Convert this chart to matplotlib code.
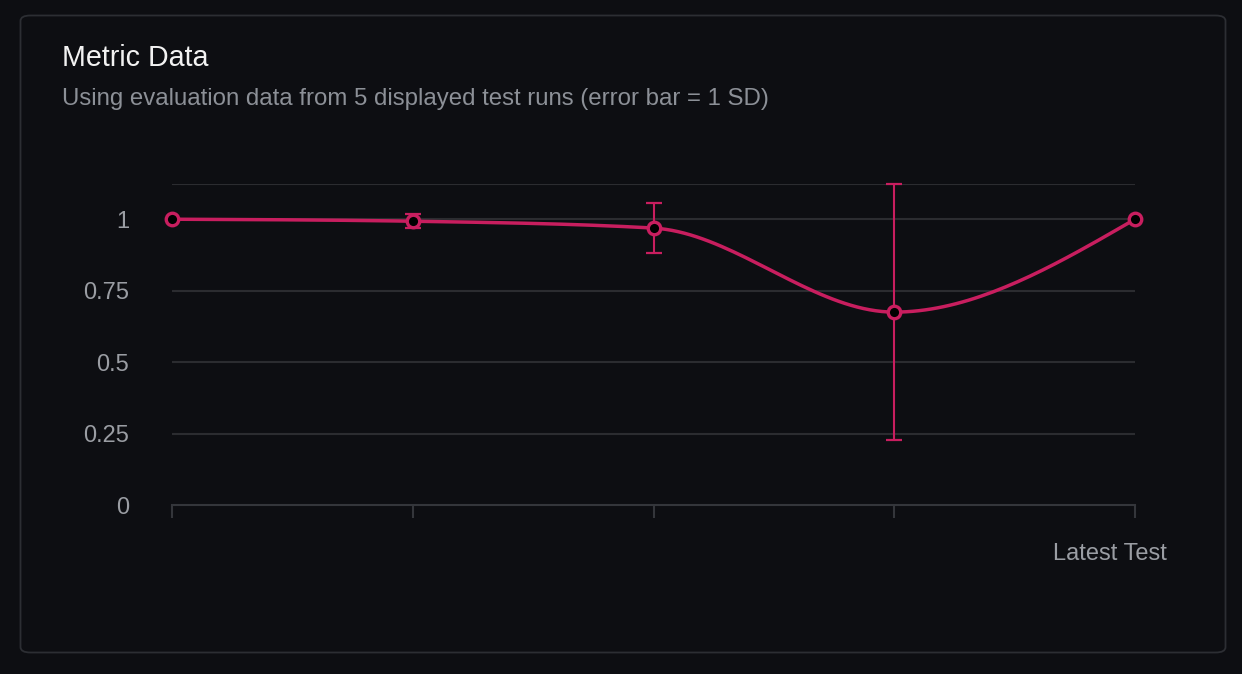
import numpy as np
import matplotlib
matplotlib.use('Agg')
import matplotlib.pyplot as plt
from matplotlib.patches import FancyBboxPatch

# data ----------------------------------------------
runs = [1, 2, 3, 4, 5]
scores = [1.0, 0.993, 0.969, 0.675, 1.0]
sd = [0.0, 0.024, 0.087, 0.447, 0.0]
yticks = [0, 0.25, 0.5, 0.75, 1]
ytick_labels = ['0', '0.25', '0.5', '0.75', '1']

title = 'Metric Data'
subtitle = 'Using evaluation data from 5 displayed test runs (error bar = 1 SD)'
xlabel = 'Latest Test'

bg = '#0d0e12'
pink = '#c81e5f'
grid_col = '#2b2c30'
txt_grey = '#9a9da3'

plt.rcParams['font.family'] = ['Liberation Sans', 'DejaVu Sans']


def sgn(v):
	# d3 style sign, zero counts as positive
	return -1.0 if v < 0 else 1.0


def monotone_path(xs, ys, n=40):
	# monotone-x cubic like d3.curveMonotoneX
	xs = np.asarray(xs, dtype=float)
	ys = np.asarray(ys, dtype=float)
	m = len(xs)
	t = np.zeros(m)
	for i in range(1, m - 1):
		h0 = xs[i] - xs[i-1]
		h1 = xs[i+1] - xs[i]
		s0 = (ys[i] - ys[i-1]) / h0
		s1 = (ys[i+1] - ys[i]) / h1
		p = (s0*h1 + s1*h0) / (h0 + h1)
		t[i] = (sgn(s0) + sgn(s1)) * min(abs(s0), abs(s1), 0.5*abs(p))
	h = xs[1] - xs[0]
	t[0] = (3*(ys[1] - ys[0])/h - t[1]) / 2
	h = xs[-1] - xs[-2]
	t[-1] = (3*(ys[-1] - ys[-2])/h - t[-2]) / 2
	px, py = [], []
	u = np.linspace(0, 1, n)
	for i in range(m - 1):
		dx = (xs[i+1] - xs[i]) / 3.0
		p0 = (xs[i], ys[i])
		p1 = (xs[i] + dx, ys[i] + dx*t[i])
		p2 = (xs[i+1] - dx, ys[i+1] - dx*t[i+1])
		p3 = (xs[i+1], ys[i+1])
		bx = (1-u)**3*p0[0] + 3*(1-u)**2*u*p1[0] + 3*(1-u)*u**2*p2[0] + u**3*p3[0]
		by = (1-u)**3*p0[1] + 3*(1-u)**2*u*p1[1] + 3*(1-u)*u**2*p2[1] + u**3*p3[1]
		px.extend(bx)
		py.extend(by)
	return np.array(px), np.array(py)


W, H = 1242, 674
fig = plt.figure(figsize=(W/100, H/100), dpi=100)
fig.patch.set_facecolor(bg)

# card outline (behind the axes)
card = FancyBboxPatch((20.5/W, 1 - 652.5/H), 1205/W, 637/H,
	boxstyle='round,pad=0,rounding_size=0.008', transform=fig.transFigure,
	facecolor=bg, edgecolor='#2c2e33', linewidth=1.3, zorder=-5)
fig.patches.append(card)

fig.text(62/W, 1 - 58.5/H, title, color='#f2f2f2', fontsize=20.6, va='center', ha='left')
fig.text(62/W, 1 - 99/H, subtitle, color='#8c9097', fontsize=17.3, va='center', ha='left')

ax = fig.add_axes([172/W, 1 - 505/H, (1135-172)/W, (505-183.5)/H])
ax.set_zorder(2)
ax.set_facecolor(bg)
x = np.arange(len(runs))
ax.set_xlim(0, len(runs) - 1)
ax.set_ylim(0, 1.125)

for gy in [0.25, 0.5, 0.75, 1.0, 1.125]:
	ax.axhline(gy, color=grid_col, lw=1.5, zorder=0)

for s in ['top', 'right', 'left']:
	ax.spines[s].set_visible(False)
ax.spines['bottom'].set_color('#34363b')
ax.spines['bottom'].set_linewidth(1.5)

ax.set_yticks(yticks)
ax.set_yticklabels(ytick_labels)
ax.tick_params(axis='y', length=0, pad=31, labelsize=17, labelcolor=txt_grey)
ax.set_xticks(x)
ax.set_xticklabels([])
ax.tick_params(axis='x', length=9, width=1.5, color='#34363b', direction='out')

# error bars, skip the zero ones
ex = [xi for xi, s in zip(x, sd) if s > 0]
ey = [yi for yi, s in zip(scores, sd) if s > 0]
es = [s for s in sd if s > 0]
ax.errorbar(ex, ey, yerr=es, fmt='none', ecolor=pink, elinewidth=1.5,
	capsize=6, capthick=1.6, zorder=2, clip_on=False)

cx, cy = monotone_path(x, scores)
ax.plot(cx, cy, color=pink, lw=2.5, zorder=3, clip_on=False, solid_capstyle='round')
ax.plot(x, scores, 'o', ms=9, mfc='black', mec=pink, mew=2.4, zorder=4, clip_on=False)

fig.text(1167/W, 1 - 554/H, xlabel, color=txt_grey, fontsize=17, ha='right', va='center')

fig.savefig('out.png', dpi=100, facecolor=bg)
